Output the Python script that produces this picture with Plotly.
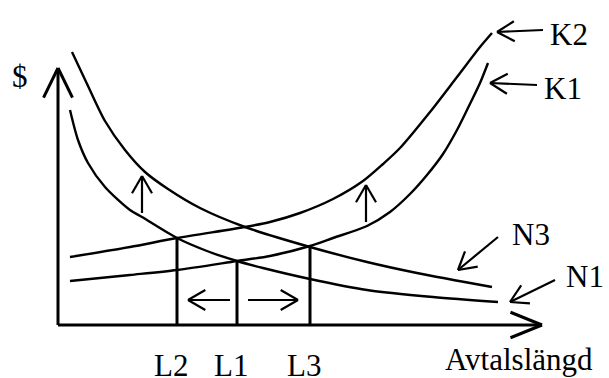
import numpy as np
import plotly.graph_objects as go

# ---- data (x = Avtalslängd, y = $) ----
k2_x = [12, 72, 119, 187, 212, 242, 275, 305, 325, 342, 372, 399, 422, 434]
k2_y = [68, 78, 87, 98, 103, 112, 126, 144, 161, 177, 213, 248, 278, 292]

k1_x = [12, 72, 119, 179, 212, 252, 275, 309, 332, 352, 369, 385, 399, 409, 422, 430]
k1_y = [44, 50, 55, 64, 69, 79, 87, 99, 113, 131, 150, 171, 195, 215, 242, 262]

n3_x = [14, 30, 47, 67, 87, 110, 142, 187, 252, 309, 359, 434]
n3_y = [273, 239, 204, 175, 153, 136, 117, 98, 78, 63, 52, 38]

n1_x = [12, 20, 30, 47, 72, 84, 119, 149, 179, 205, 252, 309, 375, 440]
n1_y = [215, 185, 162, 138, 115, 108, 87, 74, 64, 57, 46, 35, 28, 23]

# axis extents
x_axis_end = 484
y_axis_end = 257

# contract lengths L2, L1, L3 and the curves that cross there
l_names = ["L2", "L1", "L3"]
l_x = [119, 179, 252]
l_curve = ["N1", "K1", "K1"]

# annotation arrows: tail -> head
arrow_tail_x = [485, 479, 440, 497, 84, 308, 172, 190]
arrow_tail_y = [295, 240, 88, 45, 112, 103, 25, 25]
arrow_head_x = [439, 432, 400, 452, 84, 308, 130, 240]
arrow_head_y = [293, 242, 55, 23, 149, 140, 25, 25]

# labels
label_text = ["K2", "K1", "N3", "N1", "$"]
label_x = [511, 505, 473, 527, -38]
label_y = [291, 237, 91, 49, 249]
xlabel_text = "Avtalslängd"

curves = {"K2": (k2_x, k2_y), "K1": (k1_x, k1_y), "N3": (n3_x, n3_y), "N1": (n1_x, n1_y)}


def arrow_path(x0, y0, x1, y1, length, angle):
    ux, uy = x0 - x1, y0 - y1
    n = np.hypot(ux, uy)
    ux, uy = ux / n, uy / n
    xs = [x0, x1, None]
    ys = [y0, y1, None]
    for s in (1, -1):
        a = np.radians(angle) * s
        wx = ux * np.cos(a) - uy * np.sin(a)
        wy = ux * np.sin(a) + uy * np.cos(a)
        xs += [x1 + length * wx, x1, None]
        ys += [y1 + length * wy, y1, None]
    return xs, ys


fig = go.Figure()

for name, (cx, cy) in curves.items():
    fig.add_trace(go.Scatter(x=cx, y=cy, mode="lines",
                             line=dict(color="black", width=2.4, shape="spline", smoothing=0.8),
                             hoverinfo="skip", showlegend=False))

# axes with arrowheads
ax_x, ax_y = arrow_path(0, 0, x_axis_end, 0, 34, 22)
ay_x, ay_y = arrow_path(0, 0, 0, y_axis_end, 33, 26)
fig.add_trace(go.Scatter(x=ax_x + ay_x, y=ax_y + ay_y, mode="lines",
                         line=dict(color="black", width=3), hoverinfo="skip", showlegend=False))

# vertical lines at L2, L1, L3
vx, vy = [], []
for lx, cname in zip(l_x, l_curve):
    cx, cy = curves[cname]
    top = float(np.interp(lx, cx, cy))
    vx += [lx, lx, None]
    vy += [0, top, None]
fig.add_trace(go.Scatter(x=vx, y=vy, mode="lines",
                         line=dict(color="black", width=3), hoverinfo="skip", showlegend=False))

# arrows
axs, ays = [], []
for x0, y0, x1, y1 in zip(arrow_tail_x, arrow_tail_y, arrow_head_x, arrow_head_y):
    px, py = arrow_path(x0, y0, x1, y1, 20, 30)
    axs += px
    ays += py
fig.add_trace(go.Scatter(x=axs, y=ays, mode="lines",
                         line=dict(color="black", width=2.2), hoverinfo="skip", showlegend=False))

font = dict(family="Liberation Serif", size=31, color="black")
for t, x, y in zip(label_text, label_x, label_y):
    fig.add_annotation(x=x, y=y, text=t, showarrow=False, font=font,
                       xanchor="center", yanchor="middle")
for t, x in zip(l_names, l_x):
    fig.add_annotation(x=x - 6, y=-40, text=t, showarrow=False, font=font,
                       xanchor="center", yanchor="middle")
fig.add_annotation(x=461, y=-34, text=xlabel_text, showarrow=False, font=font,
                   xanchor="center", yanchor="middle")

fig.update_layout(
    width=609, height=378,
    margin=dict(l=0, r=0, t=0, b=0),
    paper_bgcolor="white", plot_bgcolor="white",
    xaxis=dict(range=[-58, 551], visible=False, fixedrange=True),
    yaxis=dict(range=[-53, 325], visible=False, fixedrange=True),
    showlegend=False,
)

fig.write_html("out.html", config={"displayModeBar": False},
               post_script="document.body.style.margin='0';document.body.style.overflow='hidden';")
